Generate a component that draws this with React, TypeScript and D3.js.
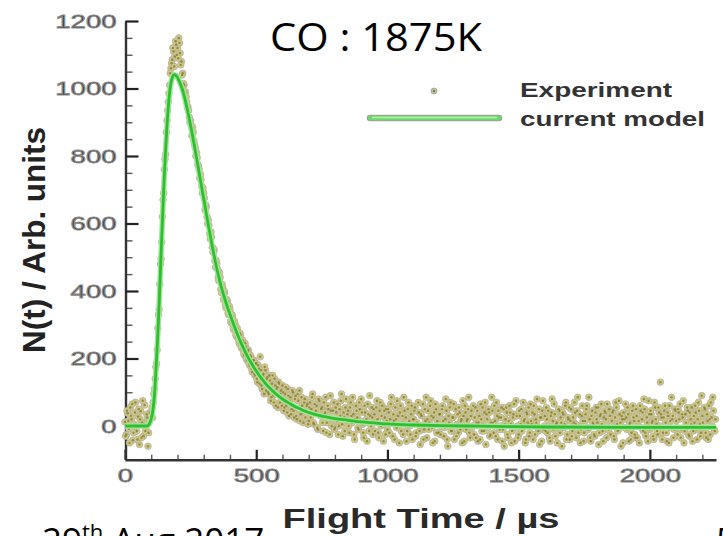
import React, { useEffect, useRef } from "react";
import * as d3 from "d3";

const WIDTH = 723;
const HEIGHT = 536;

// Fitted model curve: flight time (µs) and counts
const modelTimes = [
  0, 80, 85, 90, 95, 100, 105, 110, 115, 120, 125, 130, 135, 140, 145, 150, 155, 160, 165, 170,
  175, 180, 185, 190, 195, 200, 205, 210, 215, 220, 225, 230, 235, 240, 245, 250, 255, 260, 265,
  270, 275, 280, 285, 290, 295, 300, 305, 310, 315, 320, 325, 330, 340, 350, 360, 370, 380, 390,
  400, 410, 420, 430, 440, 450, 460, 470, 480, 490, 500, 520, 540, 560, 580, 600, 620, 640, 660,
  680, 700, 750, 800, 850, 900, 950, 1000, 1100, 1200, 1300, 1400, 1600, 1900, 2252,
];
const modelValues = [
  0, 0, 0, 3, 10, 22, 40, 72, 125, 195, 270, 360, 460, 560, 655, 745, 820, 890, 946, 988, 1016,
  1032, 1040, 1041, 1038, 1033, 1025, 1016, 1006, 994, 980, 964, 947, 929, 910, 890, 870, 849, 828,
  806, 784, 762, 740, 717, 695, 673, 651, 629, 607, 585, 564, 543, 503, 466, 433, 403, 377, 353,
  331, 309, 288, 268, 250, 233, 217, 202, 188, 175, 163, 141, 122, 106, 92, 80, 70, 61, 53, 46, 40,
  29, 22, 17, 12, 9, 6, 3, 1, 0, -1, -3, -4, -4,
];

// Measured counts. Channel A: one sample every EXP_STEP µs from t = 0;
// channel B: the same spacing, offset by half a step.
const EXP_STEP = 5;
const expRiseA = [
  12, -25, 38, -8, 55, 20, -42, 5, 70, -15,
  28, -55, 44, 10, -30, 62, -5, 25, -20, 40,
  40, 25, 95, 140, 185, 290, 345, 480, 545, 670,
  760, 805, 905, 960, 1010, 1060, 1085, 1110, 1095, 1130,
  1120, 1150, 1105, 1080, 1045, 1010, 990, 960, 945, 915,
];
const expDecayA = [
  905, 860, 870, 835, 800, 795, 770, 735, 730, 690,
  690, 640, 650, 600, 595, 555, 560, 515, 520, 470,
  480, 440, 455, 405, 420, 375, 395, 350, 370, 330,
  345, 305, 325, 285, 300, 265, 280, 245, 270, 230,
  250, 210, 235, 195, 225, 180, 205, 160, 195, 150,
  185, 130, 170, 205, 120, 150, 95, 165, 140, 100,
  150, 75, 125, 90, 140, 60, 115, 130, 70, 105,
  120, 45, 95, 60, 110, 30, 85, 50, 100, 25,
  90, 20, 75, 105, 35, 60, 10, 80, 45, 65,
  15, 70, 50, 95, 5, 40, 60, -10, 75, 30,
  55, -15, 35, 85, 10, 50, -25, 45, 20, 70,
  -5, 40, 65, 0, 30, 95, -30, 25, 55, 15,
  45, -20, 70, 10, 35, -40, 60, 25, -10, 50,
  80, 5, -35, 40, 20, 65, -15, 30, 55, -25,
  35, 10, 75, -20, 45, 0, 60, -45, 25, 50,
];
const expTailA = [
  -10, 40, 20, 85, -30, 15, 55, -5, 30, -50,
  60, 10, -25, 45, 25, -15, 70, 0, 35, -40,
  20, 55, -20, 5, 40, -55, 30, 65, -10, 15,
  -35, 45, 10, 75, -5, 25, -45, 50, 15, -20,
  35, 0, 60, -30, 20, 45, -60, 10, 70, -15,
  25, -40, 50, 5, -20, 40, 15, -50, 30, 60,
  -10, 20, 85, -35, 45, 0, -25, 55, 10, -45,
  30, 65, -15, 5, 40, -55, 20, 50, -30, 10,
  45, -20, 15, 70, -40, 25, 0, 55, -10, -60,
  20, 40, -35, 60, 5, -15, 35, -45, 75, 0,
  -25, 30, 50, -5, 15, -50, 40, 10, -30, 65,
  5, -40, 35, 20, 80, -15, -55, 25, 45, -10,
  30, 55, -20, 0, -45, 40, 15, 65, -30, 10,
  -5, 45, 25, -60, 35, 5, 70, -25, 20, -40,
  50, -15, 10, 40, -35, 85, 0, -50, 30, 15,
  -20, 35, 60, -10, 20, -45, 45, 5, -30, 55,
  10, -55, 30, 65, -15, 25, 40, -35, 0, 50,
  -25, 15, 45, -40, 70, 5, -10, 35, -60, 20,
  40, -5, 25, 55, -45, 10, -20, 60, 15, -35,
  30, 0, -50, 45, 20, -15, 50, -30, 10, 75,
  -10, 35, 15, -40, 55, 5, -25, 40, 130, 25,
  -20, 45, 10, -45, 30, 60, -5, 20, -35, 50,
  15, -25, 40, 65, -10, 25, -50, 35, 0, 45,
  -30, 20, 55, -15, 10, 40, -40, 70, 5, -20,
  30, -5, 50, -35, 15, 60, -25, 25, 85, -10,
  20,
];
const expRiseB = [
  -30, 45, 15, -50, 30, 65, -20, 40, 0, -40,
  50, 20, -35, 75, 5, -15, 35, -60, 15, 30,
  55, 70, 110, 175, 225, 330, 420, 495, 620, 690,
  790, 870, 935, 985, 1045, 1075, 1120, 1065, 1140, 1100,
  1090, 1135, 1070, 1040, 1015, 985, 975, 945, 935, 900,
];
const expDecayB = [
  890, 885, 845, 825, 810, 775, 760, 745, 710, 705,
  675, 655, 620, 610, 570, 575, 530, 525, 490, 490,
  465, 430, 440, 395, 410, 400, 360, 375, 335, 355,
  310, 330, 290, 310, 270, 290, 255, 275, 235, 255,
  215, 245, 200, 220, 185, 210, 170, 195, 155, 185,
  140, 180, 125, 165, 110, 155, 175, 105, 145, 95,
  135, 85, 150, 70, 120, 110, 55, 125, 95, 60,
  100, 55, 115, 40, 90, 75, 35, 105, 45, 80,
  30, 95, 50, 15, 85, 40, 70, 25, 60, 5,
  55, 25, 85, 10, 65, 45, -5, 80, 35, 50,
  10, 70, 40, -20, 60, 30, 90, 0, 45, -10,
  55, 15, -25, 50, 75, 5, 40, -15, 80, 35,
  0, 55, 30, 85, -25, 20, 45, -5, 70, 15,
  40, -20, 60, 10, -45, 35, 90, 0, 25, 50,
  -15, 55, 20, -35, 70, 30, 5, 45, -25, 15,
];
const expTailB = [
  50, -20, 65, 10, 35, -40, 20, 75, 0, 40,
  -15, 30, 85, 5, -45, 50, 15, -25, 60, 20,
  45, -30, 10, 70, -15, 35, 0, -40, 50, 85,
  20, -10, 60, 30, -50, 40, 65, -20, 5, 35,
  -25, 50, 15, -5, 80, -40, 30, 55, -15, 25,
  65, 0, -30, 35, 55, -10, 20, 75, -45, 40,
  15, 50, -20, 30, -5, 60, 25, -35, 45, 10,
  -40, 20, 55, -15, 70, 35, -5, 40, -25, 85,
  10, 60, -30, 30, 45, -10, 25, -45, 50, 5,
  55, -25, 15, 40, -50, 25, 65, -5, 30, -35,
  45, 5, -15, 70, 20, -40, 35, 55, -20, 15,
  40, 60, -25, 10, -5, 50, 25, -45, 75, 0,
  -15, 20, 45, -35, 30, 80, -10, 35, 5, -50,
  50, -20, 10, 40, -5, 60, -40, 25, 55, 15,
  -30, 25, 70, 5, 45, -20, 35, -10, 60, -45,
  15, 50, -5, 85, -35, 30, 10, -25, 40, 20,
  55, -20, 35, 5, -45, 45, 20, 65, -10, 30,
  0, 40, -30, 25, 55, -15, 75, 10, 30, -50,
  20, 65, -10, 35, 5, -40, 45, 25, -25, 50,
  -35, 15, 60, -5, 40, 80, -20, 25, -45, 35,
  45, 10, -30, 70, 20, -15, 55, 0, 35, -40,
  25, 60, -20, 40, -50, 15, 85, 30, -10, 45,
  -5, 50, 20, -35, 35, 75, -15, 10, 55, -25,
  40, 5, -45, 30, 60, -10, 20, 45, -30, 90,
  10, 55, -20, 35, -40, 20, 70, 0, 45, -15,
];
const expValuesA = [...expRiseA, ...expDecayA, ...expTailA];
const expValuesB = [...expRiseB, ...expDecayB, ...expTailB];

const X_MAX = 2252;
const xMajorTicks = [0, 500, 1000, 1500, 2000];
const xMinorTicks = d3.range(100, X_MAX, 100).filter((t) => t % 500 !== 0);
const yMajorTicks = [0, 200, 400, 600, 800, 1000, 1200];
const yMinorTicks = d3.range(-50, 1200, 50).filter((v) => v % 200 !== 0);

const titleText = "CO : 1875K";
const xTitle = "Flight Time / µs";
const yTitle = "N(t) / Arb. units";
const legendLabels = ["Experiment", "current model"];

const axisFont = "'Liberation Sans', Arial, sans-serif";

export default function App() {
  const xAxisRef = useRef<SVGGElement>(null);
  const xMinorRef = useRef<SVGGElement>(null);
  const yAxisRef = useRef<SVGGElement>(null);
  const yMinorRef = useRef<SVGGElement>(null);

  const x = d3.scaleLinear().domain([0, X_MAX]).range([125, 716]);
  const y = d3.scaleLinear().domain([-100, 1200]).range([459.75, 21]);

  useEffect(() => {
    const styleLabels = (g: d3.Selection<SVGGElement, unknown, null, undefined>) => {
      g.attr("font-family", axisFont).attr("font-size", 19);
      g.selectAll<SVGTextElement, number>(".tick text")
        .attr("fill", "#3a3a3a")
        .attr("stroke", "#8c8c8c")
        .attr("stroke-width", 0.9)
        .attr("textLength", (d) => String(d).length * 15.3)
        .attr("lengthAdjust", "spacingAndGlyphs");
    };
    const fmt = d3.format("d");

    const gxMinor = d3.select(xMinorRef.current!);
    gxMinor.call(
      d3.axisBottom(x).tickValues(xMinorTicks).tickSize(-5).tickSizeOuter(0).tickFormat(() => "")
    );
    gxMinor.select(".domain").remove();
    gxMinor.selectAll(".tick line").attr("stroke", "#555").attr("stroke-width", 1.4);

    const gx = d3.select(xAxisRef.current!);
    gx.call(
      d3
        .axisBottom(x)
        .tickValues(xMajorTicks)
        .tickFormat(fmt)
        .tickSize(-10)
        .tickSizeOuter(0)
        .tickPadding(9)
    );
    gx.select(".domain").attr("stroke", "#333").attr("stroke-width", 2.4);
    gx.selectAll(".tick line").attr("stroke", "#222").attr("stroke-width", 2.2);
    styleLabels(gx);

    const gyMinor = d3.select(yMinorRef.current!);
    gyMinor.call(
      d3.axisLeft(y).tickValues(yMinorTicks).tickSize(-7).tickSizeOuter(0).tickFormat(() => "")
    );
    gyMinor.select(".domain").remove();
    gyMinor.selectAll(".tick line").attr("stroke", "#555").attr("stroke-width", 1.4);

    const gy = d3.select(yAxisRef.current!);
    gy.call(
      d3
        .axisLeft(y)
        .tickValues(yMajorTicks)
        .tickFormat(fmt)
        .tickSize(-13)
        .tickSizeOuter(0)
        .tickPadding(9)
    );
    gy.select(".domain").attr("stroke", "#333").attr("stroke-width", 2.4);
    gy.selectAll(".tick line").attr("stroke", "#222").attr("stroke-width", 2.2);
    styleLabels(gy);
  }, []);

  const modelPath =
    d3
      .line<number>()
      .x((_, i) => x(modelTimes[i]))
      .y((d) => y(d))
      .curve(d3.curveMonotoneX)(modelValues) ?? "";

  const points = [
    ...expValuesA.map((v, i) => ({ t: i * EXP_STEP, v })),
    ...expValuesB.map((v, i) => ({ t: (i + 0.5) * EXP_STEP, v })),
  ];

  return (
    <svg
      width={WIDTH}
      height={HEIGHT}
      style={{ position: "fixed", left: 0, top: 0, background: "#fff" }}
    >
      <rect width={WIDTH} height={HEIGHT} fill="#fff" />

      {/* axes */}
      <g ref={xMinorRef} transform={`translate(0,${y(-100)})`} />
      <g ref={xAxisRef} transform={`translate(0,${y(-100)})`} />
      <g ref={yMinorRef} transform={`translate(${x(0) + 0.5},0)`} />
      <g ref={yAxisRef} transform={`translate(${x(0) + 0.5},0)`} />

      {/* experimental points */}
      <g>
        {points.map((p, i) => (
          <circle
            key={`o${i}`}
            cx={x(p.t)}
            cy={y(p.v)}
            r={3.3}
            fill="#d2c97e"
            stroke="#b0b0a4"
            strokeWidth={0.8}
          />
        ))}
        {points.map((p, i) => (
          <circle key={`c${i}`} cx={x(p.t)} cy={y(p.v)} r={1.2} fill="#77702c" opacity={0.7} />
        ))}
      </g>

      {/* model curve */}
      <path d={modelPath} fill="none" stroke="#a6e3a0" strokeWidth={5.5} strokeLinejoin="round" />
      <path d={modelPath} fill="none" stroke="#2cc02c" strokeWidth={2.8} strokeLinejoin="round" />

      {/* legend */}
      <circle cx={434} cy={91} r={3} fill="#c4c2a4" stroke="#9a9a90" strokeWidth={0.8} />
      <circle cx={434} cy={91} r={1.1} fill="#6e6a2c" />
      <line x1={370} x2={499} y1={118} y2={118} stroke="#a0a0a0" strokeWidth={6.5} strokeLinecap="round" />
      <line x1={370} x2={499} y1={118} y2={118} stroke="#6fd86a" strokeWidth={4.5} strokeLinecap="round" />
      <line x1={372} x2={497} y1={117.5} y2={117.5} stroke="#b8f0b0" strokeWidth={1.4} />
      <text
        x={520}
        y={97}
        fontFamily={axisFont}
        fontWeight="bold"
        fontSize={21}
        fill="#333"
        textLength={152}
        lengthAdjust="spacingAndGlyphs"
      >
        {legendLabels[0]}
      </text>
      <text
        x={520}
        y={126}
        fontFamily={axisFont}
        fontWeight="bold"
        fontSize={21}
        fill="#333"
        textLength={185}
        lengthAdjust="spacingAndGlyphs"
      >
        {legendLabels[1]}
      </text>

      {/* axis titles */}
      <text
        x={421}
        y={528}
        textAnchor="middle"
        fontFamily={axisFont}
        fontWeight="bold"
        fontSize={28}
        fill="#2a2a2a"
        textLength={277}
        lengthAdjust="spacingAndGlyphs"
      >
        {xTitle}
      </text>
      <text
        transform="translate(45,240) rotate(-90)"
        textAnchor="middle"
        fontFamily={axisFont}
        fontWeight="bold"
        fontSize={32}
        fill="#222"
        textLength={226}
        lengthAdjust="spacingAndGlyphs"
      >
        {yTitle}
      </text>

      {/* slide title and footer */}
      <text
        x={270}
        y={51}
        fontFamily="'Open Sans', sans-serif"
        fontSize={38}
        fill="#000"
        textLength={212}
        lengthAdjust="spacingAndGlyphs"
      >
        {titleText}
      </text>
      <text x={42} y={553} fontFamily="'Open Sans', sans-serif" fontSize={35} fill="#000">
        29
        <tspan dy={-13} fontSize={22}>
          th
        </tspan>
        <tspan dy={13}> Aug 2017</tspan>
      </text>
      <text x={716} y={553} fontFamily="'Open Sans', sans-serif" fontSize={35} fill="#000">
        5
      </text>
    </svg>
  );
}
